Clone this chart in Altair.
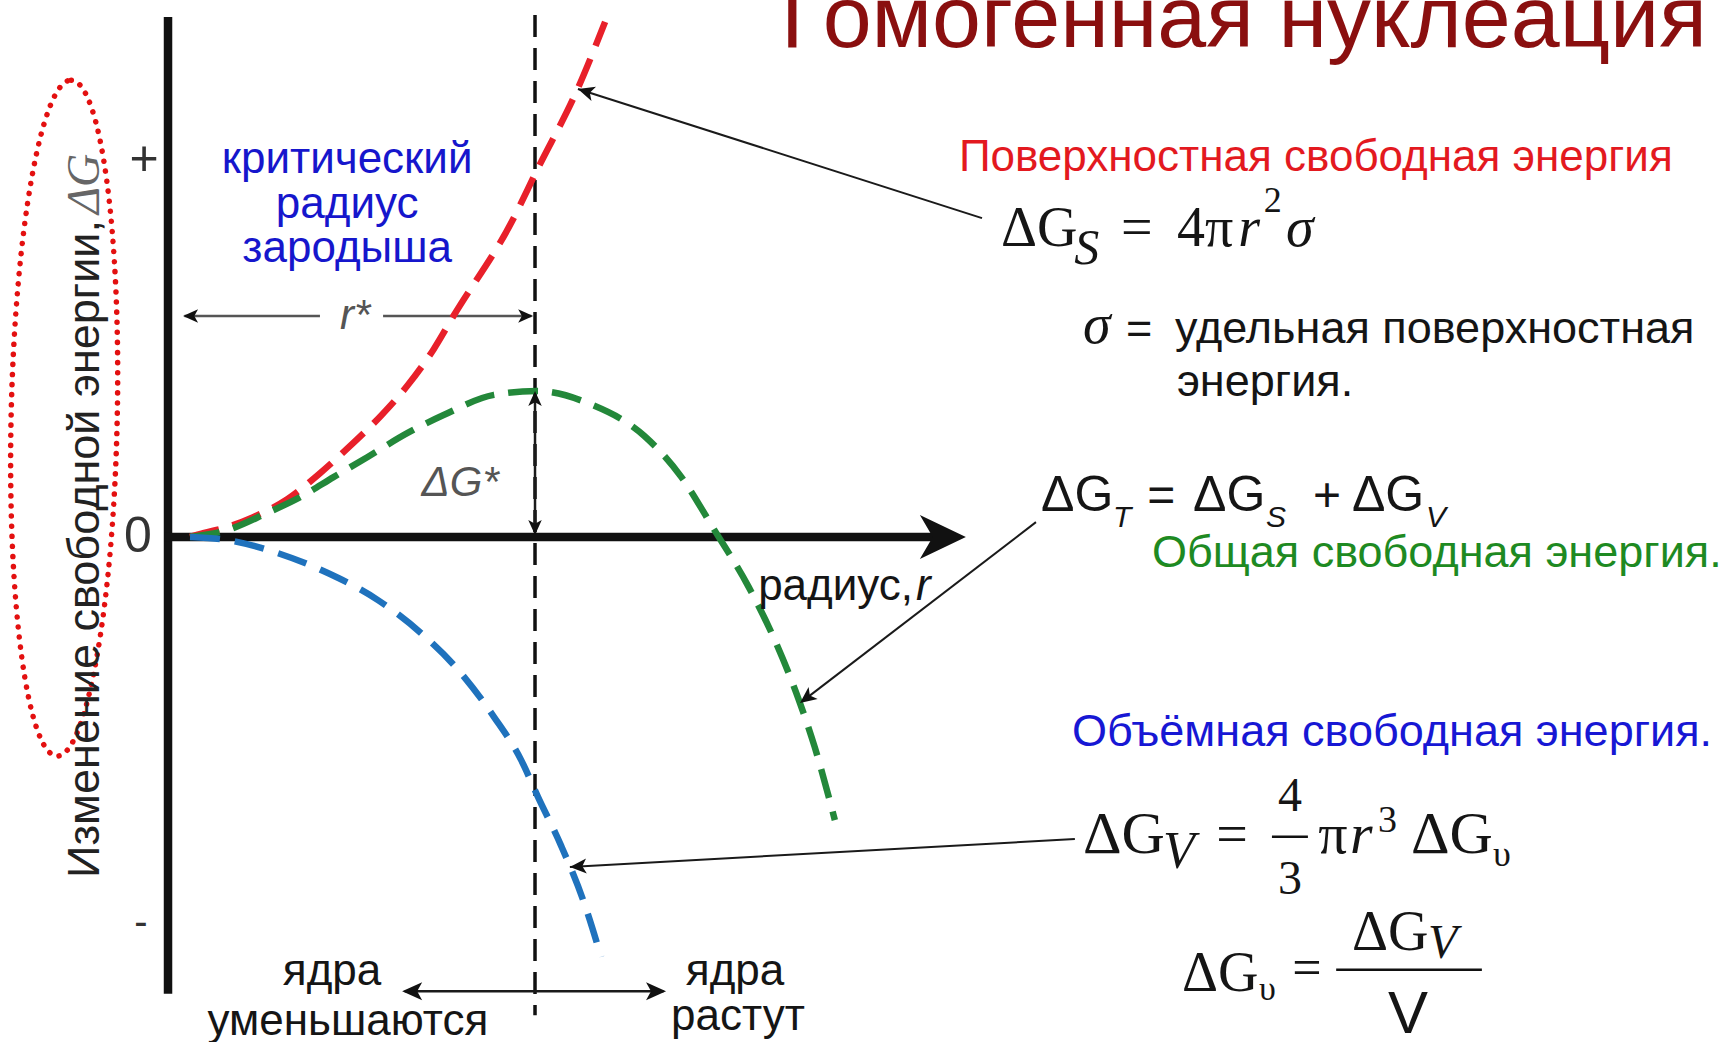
import altair as alt
import pandas as pd

# ---------------------------------------------------------------------------
# Free-energy curves: radius r in units of the critical radius r*,
# ΔG in units of the "+" tick on the energy axis.
# ---------------------------------------------------------------------------
surface_r = [0.06, 0.096, 0.161, 0.232, 0.325, 0.415, 0.505, 0.579, 0.653, 0.724, 0.779, 0.937, 1.005, 1.117, 1.191]
surface_g = [0.0, 0.010, 0.026, 0.052, 0.099, 0.168, 0.247, 0.317, 0.398, 0.493, 0.582, 0.828, 0.962, 1.178, 1.352]

total_r = [0.06, 0.161, 0.270, 0.361, 0.451, 0.544, 0.653, 0.751, 0.888, 1.005, 1.150, 1.298, 1.399, 1.489, 1.582, 1.653, 1.719, 1.762, 1.817]
total_g = [0.0, 0.018, 0.063, 0.105, 0.157, 0.210, 0.273, 0.320, 0.373, 0.383, 0.349, 0.265, 0.157, 0.018, -0.131, -0.270, -0.428, -0.551, -0.743]

volume_r = [0.06, 0.161, 0.298, 0.434, 0.571, 0.689, 0.798, 0.888, 0.962, 1.008, 1.071, 1.134, 1.180]
volume_g = [0.0, -0.008, -0.042, -0.094, -0.165, -0.252, -0.357, -0.472, -0.585, -0.682, -0.810, -0.961, -1.102]

# Critical point and the axis ticks
r_star = 1.0
dg_star = 0.383
tick_labels = ["+", "0", "-"]
tick_values = [0.99, 0.0, -1.013]

# Whole drawing shares one (r, ΔG) coordinate frame
X_SCALE = alt.Scale(domain=[-0.4578, 4.2670], nice=False, zero=False)
Y_SCALE = alt.Scale(domain=[-1.3255, 1.4094], nice=False, zero=False)


def enc(x="r", y="g", **kw):
    return dict(
        x=alt.X(f"{x}:Q", scale=X_SCALE, axis=None),
        y=alt.Y(f"{y}:Q", scale=Y_SCALE, axis=None),
        **kw,
    )


# ---------------------------------------------------------------------------
# Line segments (axes, guides, leaders): r, g -> r2, g2, style
# ---------------------------------------------------------------------------
segments = [
    # energy axis and radius axis
    (0.0, 1.365, 0.0, -1.199, "axis"),
    (-0.01, 0.0, 2.10, 0.0, "axis"),
    # critical radius marker
    (r_star, 1.370, r_star, -1.255, "dashed"),
    # r* dimension line (split around its label)
    (0.045, 0.580, 0.414, 0.580, "dim"),
    (0.586, 0.580, 0.99, 0.580, "dim"),
    # ΔG* barrier height
    (r_star, dg_star - 0.01, r_star, 0.01, "arrow"),
    # shrink / grow arrow
    (0.645, -1.192, 1.350, -1.192, "arrow"),
    # leaders from formulas to curves
    (1.117, 1.176, 2.218, 0.837, "leader"),
    (1.722, -0.436, 2.365, 0.039, "leader"),
    (1.095, -0.866, 2.471, -0.793, "leader"),
    # fraction bars
    (3.008, -0.787, 3.106, -0.787, "bar"),
    (3.183, -1.136, 3.580, -1.136, "bar"),
]
seg_df = pd.DataFrame(segments, columns=["r", "g", "r2", "g2", "kind"])

SEG_STYLES = {
    "axis": dict(color="#111111", strokeWidth=8.5, strokeCap="butt"),
    "dashed": dict(color="#111111", strokeWidth=3.5, strokeDash=[22, 11]),
    "dim": dict(color="#555555", strokeWidth=2.5),
    "arrow": dict(color="#1a1a1a", strokeWidth=2.5),
    "leader": dict(color="#1a1a1a", strokeWidth=2),
    "bar": dict(color="#111111", strokeWidth=2.5),
}

# ---------------------------------------------------------------------------
# Arrow heads: tip position, direction (deg, clockwise), size, shape
# ---------------------------------------------------------------------------
AXIS_HEAD = "M0,0L-1,-0.48L-0.72,0L-1,0.48Z"
HEAD = "M0,0L-1,-0.45L-0.75,0L-1,0.45Z"
heads = [
    (2.174, 0.0, 0, 8464, AXIS_HEAD),
    (0.041, 0.580, 180, 900, HEAD),
    (0.995, 0.580, 0, 900, HEAD),
    (r_star, dg_star, 270, 900, HEAD),
    (r_star, 0.005, 90, 900, HEAD),
    (0.638, -1.192, 180, 1600, HEAD),
    (1.357, -1.192, 0, 1600, HEAD),
    (1.117, 1.176, 197.7, 1100, HEAD),
    (1.722, -0.436, 142.5, 1100, HEAD),
    (1.095, -0.866, 176.8, 1100, HEAD),
]
head_df = pd.DataFrame(heads, columns=["r", "g", "angle", "size", "shape"])

# Dotted ring around the energy-axis title
ring_df = pd.DataFrame(
    {"r": [-0.283], "g": [0.312], "angle": [1.2], "size": [456976],
     "shape": ["M0,-1A0.157,1 0 1,1 0,1A0.157,1 0 1,1 0,-1Z"]}
)

# ---------------------------------------------------------------------------
# Texts: (style, text, r, g, font size, colour)
# ---------------------------------------------------------------------------
BLACK = "#151515"
texts = [
    ("sans", "Гомогенная нуклеация", 1.670, 1.286, 88, "#8a0f0f"),
    ("sans", "Поверхностная свободная энергия", 2.155, 0.961, 44, "#e3191f"),
    ("sans", "Общая свободная энергия.", 2.681, -0.079, 45, "#1e8a22"),
    ("sans", "Объёмная свободная энергия.", 2.463, -0.549, 45, "#1717d4"),
    ("sans_c", "критический", 0.488, 0.955, 44, "#1616cc"),
    ("sans_c", "радиус", 0.488, 0.837, 44, "#1616cc"),
    ("sans_c", "зародыша", 0.488, 0.722, 44, "#1616cc"),
    ("sans", "удельная поверхностная", 2.744, 0.509, 45, BLACK),
    ("sans", "энергия.", 2.749, 0.370, 45, BLACK),
    ("sans", "=", 2.610, 0.509, 45, BLACK),
    ("sans", "радиус,", 1.608, -0.165, 44, BLACK),
    ("sans_i", "r", 2.038, -0.165, 44, BLACK),
    ("sans_c", "ядра", 0.447, -1.176, 44, BLACK),
    ("sans_c", "уменьшаются", 0.490, -1.307, 44, BLACK),
    ("sans_c", "ядра", 1.545, -1.176, 44, BLACK),
    ("sans_c", "растут", 1.553, -1.294, 44, BLACK),
    ("mid_i", "r*", 0.510, 0.580, 42, "#555555"),
    ("mid_i", "ΔG*", 0.796, 0.142, 42, "#555555"),
    ("mid", tick_labels[0], -0.065, tick_values[0], 50, "#333333"),
    ("mid", tick_labels[1], -0.082, tick_values[1], 50, "#333333"),
    ("mid", tick_labels[2], -0.074, tick_values[2], 40, "#333333"),
    ("ylab", "Изменение свободной энергии,", -0.226, 0.832, 45, "#222222"),
    ("ylab_i", "ΔG", -0.226, 0.848, 46, "#666666"),
    # ΔG_S = 4πr²σ
    ("serif", "ΔG", 2.270, 0.764, 56, BLACK),
    ("serif_i", "S", 2.469, 0.717, 50, BLACK),
    ("serif", "=", 2.597, 0.764, 56, BLACK),
    ("serif", "4π", 2.749, 0.764, 56, BLACK),
    ("serif_i", "r", 2.916, 0.764, 56, BLACK),
    ("serif", "2", 2.986, 0.853, 36, BLACK),
    ("serif_i", "σ", 3.046, 0.764, 56, BLACK),
    ("serif_i", "σ", 2.493, 0.509, 56, BLACK),
    # ΔG_T = ΔG_S + ΔG_V
    ("sans", "ΔG", 2.379, 0.068, 50, BLACK),
    ("sans_i", "T", 2.575, 0.025, 30, BLACK),
    ("sans", "=", 2.668, 0.068, 48, BLACK),
    ("sans", "ΔG", 2.793, 0.068, 50, BLACK),
    ("sans_i", "S", 2.992, 0.025, 30, BLACK),
    ("sans", "+", 3.120, 0.068, 48, BLACK),
    ("sans", "ΔG", 3.226, 0.068, 50, BLACK),
    ("sans_i", "V", 3.428, 0.025, 30, BLACK),
    # ΔG_V = 4/3 πr³ ΔG_υ
    ("serif", "ΔG", 2.493, -0.829, 60, BLACK),
    ("serif_i", "V", 2.711, -0.869, 52, BLACK),
    ("serif", "=", 2.856, -0.829, 56, BLACK),
    ("serif_c", "4", 3.057, -0.719, 48, BLACK),
    ("serif_c", "3", 3.057, -0.937, 48, BLACK),
    ("serif", "π", 3.134, -0.829, 58, BLACK),
    ("serif_i", "r", 3.221, -0.829, 58, BLACK),
    ("serif", "3", 3.297, -0.774, 38, BLACK),
    ("serif", "ΔG", 3.387, -0.829, 60, BLACK),
    ("serif", "υ", 3.610, -0.864, 36, BLACK),
    # ΔG_υ = ΔG_V / V
    ("serif", "ΔG", 2.763, -1.192, 56, BLACK),
    ("serif", "υ", 2.973, -1.215, 34, BLACK),
    ("serif", "=", 3.063, -1.176, 52, BLACK),
    ("serif", "ΔG", 3.226, -1.084, 56, BLACK),
    ("serif_i", "V", 3.433, -1.105, 48, BLACK),
    ("sans_c", "V", 3.379, -1.302, 60, BLACK),
]
text_df = pd.DataFrame(texts, columns=["style", "text", "r", "g", "size", "color"])

SANS = "Liberation Sans, Arial, Helvetica, sans-serif"
SERIF = "Liberation Serif, Times New Roman, serif"
TEXT_STYLES = {
    "sans": dict(font=SANS, align="left", baseline="alphabetic"),
    "sans_i": dict(font=SANS, align="left", baseline="alphabetic", fontStyle="italic"),
    "sans_c": dict(font=SANS, align="center", baseline="alphabetic"),
    "mid": dict(font=SANS, align="center", baseline="middle"),
    "mid_i": dict(font=SANS, align="center", baseline="middle", fontStyle="italic"),
    "serif": dict(font=SERIF, align="left", baseline="alphabetic"),
    "serif_i": dict(font=SERIF, align="left", baseline="alphabetic", fontStyle="italic"),
    "serif_c": dict(font=SERIF, align="center", baseline="alphabetic"),
    "ylab": dict(font=SANS, align="right", baseline="middle", angle=270),
    "ylab_i": dict(font=SERIF, align="left", baseline="middle", angle=270, fontStyle="italic"),
}

# ---------------------------------------------------------------------------
# Layers
# ---------------------------------------------------------------------------
layers = []

ring = alt.Chart(ring_df).mark_point(
    filled=False, color="#e31010", strokeWidth=5.5, strokeDash=[0.1, 10],
    strokeCap="round", opacity=1,
).encode(**enc(
    shape=alt.Shape("shape:N", scale=None),
    size=alt.Size("size:Q", scale=None),
    angle=alt.Angle("angle:Q", scale=None),
))
layers.append(ring)

for kind, style in SEG_STYLES.items():
    sub = seg_df[seg_df["kind"] == kind]
    layers.append(
        alt.Chart(sub).mark_rule(**style).encode(
            **enc(x2=alt.X2("r2"), y2=alt.Y2("g2"))
        )
    )

curves = [
    (surface_r, surface_g, "#e8202a", [30, 14]),
    (total_r, total_g, "#23883a", [30, 14]),
    (volume_r, volume_g, "#1f72bd", [30, 15]),
]
for rs, gs, colour, dash in curves:
    df = pd.DataFrame({"r": rs, "g": gs})
    layers.append(
        alt.Chart(df).mark_line(
            color=colour, strokeWidth=6.5, strokeDash=dash, interpolate="monotone"
        ).encode(**enc(order=alt.Order("r:Q")))
    )

layers.append(
    alt.Chart(head_df).mark_point(filled=True, color="#111111", opacity=1, strokeWidth=0).encode(
        **enc(
            shape=alt.Shape("shape:N", scale=None),
            size=alt.Size("size:Q", scale=None),
            angle=alt.Angle("angle:Q", scale=None),
        )
    )
)

for style, props in TEXT_STYLES.items():
    sub = text_df[text_df["style"] == style]
    if sub.empty:
        continue
    layers.append(
        alt.Chart(sub).mark_text(**props).encode(
            **enc(
                text=alt.Text("text:N"),
                size=alt.Size("size:Q", scale=None),
                color=alt.Color("color:N", scale=None),
            )
        )
    )

chart = (
    alt.layer(*layers)
    .properties(
        width=1734,
        height=1042,
        padding=0,
        background="#ffffff",
        autosize=alt.AutoSizeParams(type="none"),
    )
    .configure_view(stroke=None)
)

chart.save("out.html", embed_options={"renderer": "svg", "actions": False})
